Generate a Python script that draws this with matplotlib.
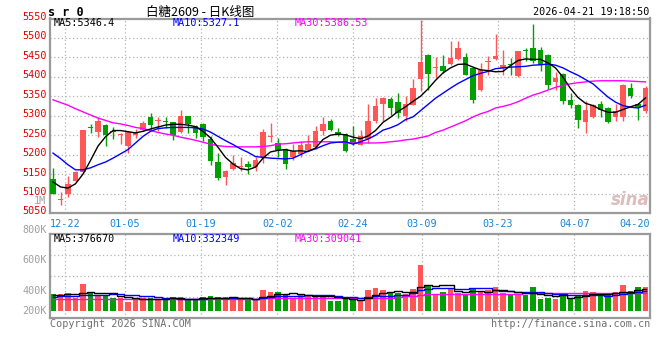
import matplotlib
matplotlib.use('Agg')

import numpy as np
import matplotlib.pyplot as plt
from matplotlib.transforms import ScaledTranslation

# ----------------------------
# data, 80 daily bars 2025-12-18 .. 2026-04-21
# ----------------------------
opens = [5137, 5083, 5100, 5131, 5155, 5271, 5258, 5277, 5260, 5251,
         5223, 5250, 5263, 5298, 5286, 5287, 5283, 5257, 5299, 5273,
         5279, 5240, 5181, 5143, 5164, 5169, 5176, 5167, 5193, 5246,
         5230, 5215, 5194, 5202, 5213, 5219, 5262, 5287, 5258, 5253,
         5241, 5226, 5239, 5287, 5329, 5343, 5335, 5299, 5327, 5395,
         5455, 5422, 5427, 5434, 5447, 5450, 5423, 5367, 5439, 5447,
         5423, 5433, 5401, 5469, 5473, 5470, 5457, 5386, 5407, 5341,
         5327, 5284, 5297, 5330, 5320, 5297, 5297, 5371, 5330, 5313]
highs = [5166, 5104, 5144, 5157, 5263, 5279, 5297, 5280, 5270, 5256,
         5260, 5267, 5287, 5308, 5298, 5298, 5284, 5315, 5300, 5275,
         5281, 5247, 5204, 5160, 5200, 5195, 5183, 5193, 5266, 5281,
         5243, 5216, 5227, 5236, 5251, 5273, 5298, 5292, 5269, 5255,
         5273, 5264, 5330, 5346, 5348, 5347, 5359, 5350, 5395, 5545,
         5459, 5450, 5457, 5491, 5493, 5461, 5425, 5436, 5453, 5510,
         5470, 5449, 5467, 5474, 5536, 5476, 5459, 5413, 5409, 5359,
         5329, 5337, 5330, 5337, 5322, 5330, 5382, 5384, 5333, 5376]
lows = [5098, 5070, 5091, 5129, 5153, 5256, 5245, 5223, 5239, 5227,
        5203, 5243, 5260, 5264, 5262, 5268, 5237, 5256, 5256, 5243,
        5234, 5174, 5136, 5123, 5161, 5159, 5151, 5159, 5179, 5233,
        5193, 5164, 5185, 5193, 5210, 5215, 5251, 5260, 5247, 5207,
        5226, 5224, 5230, 5281, 5286, 5303, 5293, 5286, 5327, 5363,
        5365, 5397, 5410, 5431, 5444, 5404, 5333, 5363, 5406, 5444,
        5406, 5406, 5400, 5440, 5436, 5416, 5370, 5365, 5331, 5320,
        5269, 5256, 5294, 5296, 5281, 5287, 5287, 5346, 5290, 5307]
closes = [5100, 5085, 5125, 5155, 5263, 5269, 5286, 5251, 5257, 5254,
          5257, 5257, 5281, 5277, 5288, 5284, 5251, 5299, 5279, 5256,
          5245, 5183, 5140, 5159, 5179, 5171, 5167, 5185, 5258, 5248,
          5213, 5176, 5210, 5224, 5227, 5260, 5279, 5264, 5251, 5210,
          5230, 5249, 5287, 5324, 5346, 5320, 5307, 5330, 5371, 5438,
          5407, 5425, 5416, 5449, 5474, 5406, 5341, 5417, 5441, 5453,
          5431, 5430, 5466, 5466, 5440, 5431, 5380, 5397, 5337, 5327,
          5290, 5316, 5327, 5316, 5284, 5311, 5380, 5350, 5322, 5371]

ma5 = [5130, 5117, 5114, 5125, 5150, 5185, 5222, 5246, 5262, 5262,
       5259, 5256, 5260, 5266, 5271, 5276, 5278, 5278, 5276, 5272,
       5260, 5243, 5219, 5193, 5176, 5164, 5161, 5168, 5191, 5207,
       5211, 5213, 5209, 5210, 5208, 5217, 5239, 5250, 5253, 5251,
       5245, 5241, 5248, 5262, 5283, 5296, 5311, 5323, 5337, 5350,
       5369, 5391, 5410, 5423, 5432, 5433, 5425, 5418, 5416, 5413,
       5414, 5429, 5442, 5446, 5445, 5445, 5436, 5423, 5399, 5370,
       5347, 5332, 5326, 5316, 5309, 5309, 5316, 5323, 5329, 5346]
ma10 = [5204, 5190, 5174, 5161, 5161, 5166, 5174, 5181, 5191, 5202,
        5213, 5230, 5247, 5260, 5267, 5269, 5270, 5270, 5270, 5269,
        5266, 5258, 5247, 5236, 5226, 5215, 5206, 5195, 5193, 5191,
        5190, 5189, 5191, 5200, 5209, 5215, 5223, 5230, 5232, 5233,
        5227, 5233, 5240, 5250, 5263, 5269, 5277, 5290, 5297, 5313,
        5329, 5345, 5358, 5371, 5383, 5393, 5403, 5409, 5414, 5421,
        5423, 5425, 5426, 5427, 5430, 5431, 5433, 5430, 5423, 5413,
        5404, 5393, 5382, 5365, 5348, 5335, 5326, 5322, 5320, 5327]
ma30 = [5341, 5334, 5327, 5318, 5310, 5302, 5294, 5288, 5282, 5279,
        5275, 5270, 5267, 5262, 5257, 5253, 5250, 5245, 5241, 5237,
        5232, 5227, 5223, 5221, 5220, 5220, 5220, 5220, 5221, 5223,
        5227, 5228, 5230, 5232, 5233, 5233, 5233, 5233, 5232, 5231,
        5230, 5230, 5230, 5230, 5231, 5233, 5235, 5238, 5240, 5244,
        5248, 5257, 5263, 5271, 5279, 5287, 5297, 5305, 5311, 5320,
        5324, 5329, 5336, 5345, 5353, 5359, 5366, 5373, 5378, 5382,
        5385, 5387, 5389, 5390, 5390, 5390, 5390, 5389, 5388, 5387]

# volume in thousands
volume = [283, 283, 302, 219, 453, 297, 274, 274, 217, 212,
          151, 194, 224, 217, 194, 184, 231, 231, 175, 175,
          231, 249, 231, 231, 194, 194, 194, 194, 351, 321,
          321, 274, 224, 264, 264, 264, 264, 167, 167, 201,
          198, 181, 351, 391, 351, 295, 306, 283, 368, 776,
          419, 283, 323, 391, 295, 283, 368, 334, 351, 408,
          295, 266, 266, 266, 408, 198, 221, 198, 295, 198,
          266, 334, 323, 266, 266, 323, 436, 334, 408, 408]
vol_ma5 = [270, 275, 285, 280, 308, 311, 309, 303, 303, 255,
           226, 210, 200, 200, 196, 203, 210, 211, 203, 199,
           209, 212, 212, 223, 227, 220, 209, 201, 225, 251,
           276, 292, 298, 281, 269, 258, 256, 245, 225, 213,
           199, 183, 220, 264, 294, 314, 339, 325, 321, 406,
           430, 426, 434, 438, 342, 315, 332, 334, 326, 349,
           351, 331, 317, 300, 300, 281, 272, 258, 264, 222,
           236, 258, 283, 277, 291, 302, 323, 325, 353, 377]
vol_ma10 = [240, 245, 250, 255, 262, 268, 272, 275, 280, 282,
            269, 260, 252, 252, 226, 215, 210, 206, 202, 198,
            206, 211, 212, 213, 213, 215, 211, 207, 224, 239,
            248, 251, 250, 253, 260, 267, 274, 272, 253, 241,
            229, 220, 233, 245, 254, 257, 261, 273, 293, 350,
            372, 383, 380, 380, 374, 373, 379, 384, 382, 346,
            333, 332, 326, 313, 325, 316, 302, 288, 282, 261,
            259, 265, 271, 271, 257, 269, 291, 304, 315, 332]
vol_ma30 = [195, 195, 196, 196, 197, 197, 197, 198, 198, 198,
            198, 198, 197, 197, 197, 197, 198, 198, 198, 198,
            198, 199, 199, 199, 199, 199, 199, 200, 214, 216,
            218, 218, 219, 219, 219, 220, 220, 218, 216, 214,
            212, 212, 213, 215, 218, 222, 240, 243, 246, 270,
            276, 280, 283, 286, 288, 289, 290, 290, 291, 292,
            292, 292, 292, 293, 293, 293, 293, 293, 294, 294,
            295, 296, 297, 298, 299, 300, 302, 304, 306, 309]

date_labels = ['12-22', '01-05', '01-19', '02-02', '02-24',
               '03-09', '03-23', '04-07', '04-20']
# label positions in bar units (grid is slightly offset from bars)
date_pos = [1.6, 9.6, 19.7, 29.9, 40.0, 49.2, 59.3, 69.5, 77.6]

price_ticks = list(range(5050, 5551, 50))
vol_labels = ['800K', '600K', '400K', '200K']

# ----------------------------
# style
# ----------------------------
UP = '#ff5656'
DOWN = '#00a000'
MONO = 'DejaVu Sans Mono'
CJK = ['Noto Sans CJK SC', 'DejaVu Sans']
FS = 7.3
BORDER = '#9a9a9a'
GRID = '#b4b4b4'
DATE_C = '#1a85d6'

x = np.arange(len(closes))
o = np.array(opens, float)
c = np.array(closes, float)
h = np.array(highs, float)
l = np.array(lows, float)
up = c >= o
col = np.where(up, UP, DOWN)

fig = plt.figure(figsize=(6.6, 3.6), dpi=100)
W, H = 660.0, 360.0
ax = fig.add_axes([50 / W, 1 - 213 / H, 600 / W, 194.5 / H])
axv = fig.add_axes([50 / W, 1 - 318 / H, 600 / W, 84 / H])

for a in (ax, axv):
    a.set_xlim(-0.4, 79.6)
    for s in a.spines.values():
        s.set_color(BORDER)
        s.set_linewidth(1.6)
    a.set_xticks(date_pos)
    a.grid(True, color=GRID, linestyle=(0, (1, 2)), linewidth=0.9)
    a.set_axisbelow(True)
    a.tick_params(length=0)
    a.get_xgridlines()[-1].set_visible(False)

# --- price panel ---
ax.vlines(x, l, h, colors=col, linewidth=1.0, zorder=2)
body_lo = np.minimum(o, c)
body_h = np.maximum(np.abs(c - o), 1.3)
ax.bar(x, body_h, bottom=body_lo, width=0.76, color=col, linewidth=0, zorder=3)

ax.plot(x, ma30, color='#ff00ff', linewidth=1.0, zorder=4)
ax.plot(x, ma10, color='#0000ff', linewidth=1.0, zorder=4)
ax.plot(x, ma5, color='#000000', linewidth=1.0, zorder=4)

ax.set_ylim(5050, 5550)
ax.set_yticks(price_ticks)
ax.set_yticklabels([str(t) for t in price_ticks], color='#e00000',
                   fontsize=FS, family=MONO)
ax.tick_params(axis='y', pad=2)
# price labels sit a little above their grid lines
lift = ScaledTranslation(0, 2.5 / 100, fig.dpi_scale_trans)
for lab in ax.get_yticklabels():
    lab.set_transform(lab.get_transform() + lift)
ax.set_xticklabels(date_labels, color=DATE_C, fontsize=FS, family=MONO)
ax.tick_params(axis='x', pad=4)

ax.text(0.006, 0.975, 'MA5:%.1f' % 5346.4, transform=ax.transAxes,
        color='black', fontsize=FS, family=MONO, va='center', ha='left')
ax.text(0.205, 0.975, 'MA10:%.1f' % 5327.1, transform=ax.transAxes,
        color='#0000ff', fontsize=FS, family=MONO, va='center', ha='left')
ax.text(0.408, 0.975, 'MA30:%.2f' % 5386.53, transform=ax.transAxes,
        color='#ff00ff', fontsize=FS, family=MONO, va='center', ha='left')

# sina watermark
ax.text(0.999, 0.02, 'sina', transform=ax.transAxes, color='#dcbcbc',
        fontsize=12, fontweight='bold', style='italic', ha='right', va='bottom')

# --- volume panel ---
axv.bar(x, volume, width=0.76, color=col, linewidth=0, zorder=2)
axv.step(x, vol_ma30, where='mid', color='#ff00ff', linewidth=1.0, zorder=3)
axv.step(x, vol_ma10, where='mid', color='#0000ff', linewidth=1.0, zorder=3)
axv.step(x, vol_ma5, where='mid', color='#000000', linewidth=1.0, zorder=3)
vlo, vhi = -124, 1304
axv.set_ylim(vlo, vhi)
axv.set_yticks(np.linspace(vlo, vhi, 5)[1:-1])
axv.set_yticklabels([])
axv.set_xticklabels([])
for lab, yf in zip(vol_labels, [1.048, 0.69, 0.325, 0.083]):
    axv.text(-0.005, yf, lab, transform=axv.transAxes, color='#a0a0a0',
             fontsize=FS, family=MONO, ha='right', va='center')

axv.text(0.006, 0.94, 'MA5:376670', transform=axv.transAxes,
         color='black', fontsize=FS, family=MONO, va='center', ha='left')
axv.text(0.205, 0.94, 'MA10:332349', transform=axv.transAxes,
         color='#0000ff', fontsize=FS, family=MONO, va='center', ha='left')
axv.text(0.408, 0.94, 'MA30:309041', transform=axv.transAxes,
         color='#ff00ff', fontsize=FS, family=MONO, va='center', ha='left')

# --- header / footer ---
fig.text(48 / W, 1 - 12 / H, 's r 0', fontsize=8.5, fontweight='bold',
         family=MONO, va='center', ha='left')
fig.text(200 / W, 1 - 12 / H, '白糖2609 - 日K线图', fontsize=9,
         family=CJK, va='center', ha='center')
fig.text(649 / W, 1 - 12 / H, '2026-04-21 19:18:50', fontsize=FS,
         family=MONO, va='center', ha='right')
fig.text(46 / W, 1 - 201.5 / H, '1M', fontsize=FS, family=MONO,
         color='#a0a0a0', va='center', ha='right')
fig.text(50 / W, 1 - 324 / H, 'Copyright 2026 SINA.COM', fontsize=FS,
         family=MONO, color='#707070', va='center', ha='left')
fig.text(650 / W, 1 - 324 / H, 'http://finance.sina.com.cn', fontsize=FS,
         family=MONO, color='#707070', va='center', ha='right')

fig.savefig('out.png', dpi=100, facecolor='white')
